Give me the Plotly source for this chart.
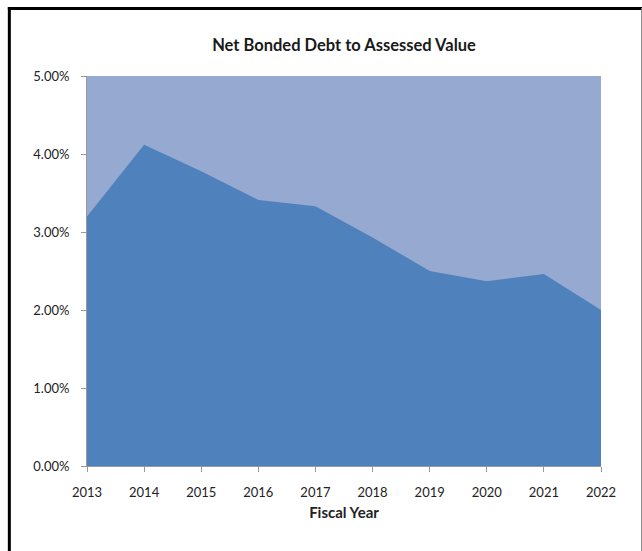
import plotly.graph_objects as go

years = ["2013", "2014", "2015", "2016", "2017", "2018", "2019", "2020", "2021", "2022"]
ratio = [0.0320, 0.0412, 0.0378, 0.0341, 0.0333, 0.0293, 0.0250, 0.0237, 0.0246, 0.0200]
y_ticks = [0, 0.01, 0.02, 0.03, 0.04, 0.05]

fig = go.Figure()
fig.add_trace(go.Scatter(
    x=years, y=ratio, mode="lines", fill="tozeroy",
    line=dict(color="#4F81BD", width=0), fillcolor="#4F81BD",
    hoverinfo="x+y",
))

fig.update_layout(
    width=642, height=551,
    margin=dict(l=87, r=41, t=76, b=85),
    paper_bgcolor="white",
    plot_bgcolor="#95A9D1",
    showlegend=False,
    title=dict(text="<b>Net Bonded Debt to Assessed Value</b>", x=0.5, xref="paper",
               y=1 - 45 / 551, yref="container", yanchor="middle",
               font=dict(family="Lato", size=16.5, color="#1a1a1a")),
    font=dict(family="Lato", size=13, color="#222"),
    xaxis=dict(
        type="category", range=[0, 9], showgrid=False, zeroline=False,
        showline=True, linecolor="#999", linewidth=1,
        ticks="outside", ticklen=5, tickcolor="#999",
        tickfont=dict(size=13), ticklabelstandoff=9,
        title=dict(text="<b>Fiscal Year</b>", standoff=8, font=dict(size=15)),
    ),
    yaxis=dict(
        range=[0, 0.05], tickvals=y_ticks, tickformat=".2%",
        showgrid=False, zeroline=False,
        showline=True, linecolor="#999", linewidth=1,
        ticks="outside", ticklen=5, tickcolor="#999",
        tickfont=dict(size=13), ticklabelstandoff=9,
    ),
    shapes=[
        dict(type="line", xref="paper", yref="paper", x0=(8 - 87) / 513, x1=(641 - 87) / 513,
             y0=(466 - 8.5) / 390, y1=(466 - 8.5) / 390, layer="above",
             line=dict(color="black", width=3)),
        dict(type="line", xref="paper", yref="paper", x0=(9.5 - 87) / 513, x1=(9.5 - 87) / 513,
             y0=(466 - 7) / 390, y1=(466 - 551) / 390, layer="above",
             line=dict(color="black", width=3)),
        dict(type="line", xref="paper", yref="paper", x0=(640.5 - 87) / 513, x1=(640.5 - 87) / 513,
             y0=(466 - 8) / 390, y1=(466 - 551) / 390, layer="above",
             line=dict(color="#888", width=1)),
    ],
)

fig.write_html("out.html", config={"displayModeBar": False},
               post_script="document.body.style.margin='0';")
